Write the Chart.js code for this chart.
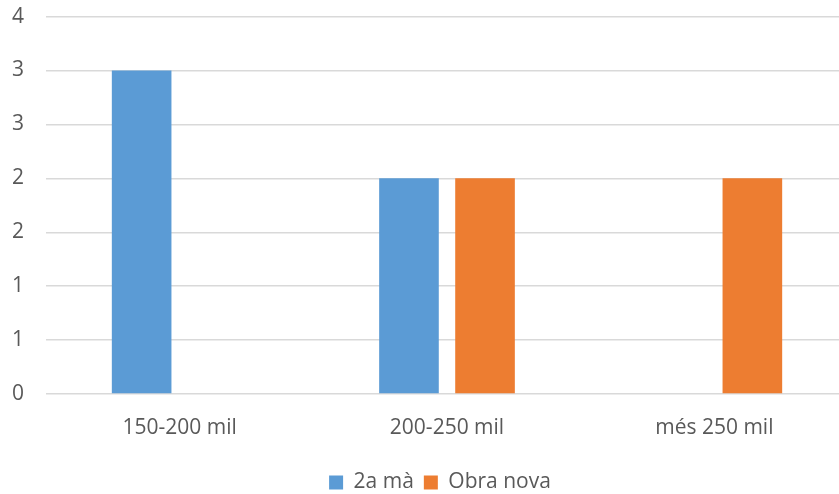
<!DOCTYPE html>
<html>
<head>
<meta charset="utf-8">
<script src="https://cdn.jsdelivr.net/npm/chart.js@4"></script>
<style>
  html, body { margin: 0; padding: 0; background: #fff; overflow: hidden; }
  #wrap { width: 880px; height: 503px; }
</style>
</head>
<body>
<div id="wrap"><canvas id="priceChart"></canvas></div>
<script>
// Data
const categories = ['150-200 mil', '200-250 mil', 'més 250 mil'];
const segonaMa = [3, 2, 0];
const obraNova = [0, 2, 2];
const seriesNames = ['2a mà', 'Obra nova'];

const textColor = '#595959';
const gridColor = '#D9D9D9';
const font = { family: "'Open Sans', sans-serif", size: 21 };

const data = {
    labels: categories,
    datasets: [{
        label: seriesNames[0],
        data: segonaMa,
        backgroundColor: '#5B9BD5',
        categoryPercentage: 0.569,
        barPercentage: 0.784,
    }, {
        label: seriesNames[1],
        data: obraNova,
        backgroundColor: '#ED7D31',
        categoryPercentage: 0.569,
        barPercentage: 0.784,
    }]
};

const options = {
    responsive: true,
    maintainAspectRatio: false,
    animation: false,
    layout: {
        padding: { top: 0, right: 12, left: 12, bottom: 0 }
    },
    plugins: {
        legend: {
            position: 'bottom',
            labels: {
                boxWidth: 14,
                boxHeight: 14,
                padding: 10,
                color: textColor,
                font: font,
            }
        },
        tooltip: { enabled: false }
    },
    scales: {
        y: {
            min: 0,
            max: 3.5,
            afterFit: scale => { scale.width = 34; },
            ticks: {
                stepSize: 0.5,
                padding: 4,
                crossAlign: 'far',
                color: textColor,
                font: font,
                callback: v => Math.round(v),
            },
            grid: {
                color: gridColor,
                lineWidth: 1.5,
                drawTicks: false,
            },
            border: { display: false }
        },
        // empty right-hand axis, only keeps the plot a bit narrower than the canvas
        spacer: {
            position: 'right',
            afterFit: scale => { scale.width = 20; },
            ticks: { display: false },
            grid: { display: false, drawTicks: false },
            border: { display: false }
        },
        x: {
            afterFit: scale => { scale.height = 68; },
            ticks: {
                padding: 21,
                color: textColor,
                font: font,
            },
            grid: { display: false, drawTicks: false },
            border: { display: false }
        }
    }
};

const priceChart = new Chart(document.getElementById('priceChart'), {
    type: 'bar',
    data,
    options
});
</script>
</body>
</html>
